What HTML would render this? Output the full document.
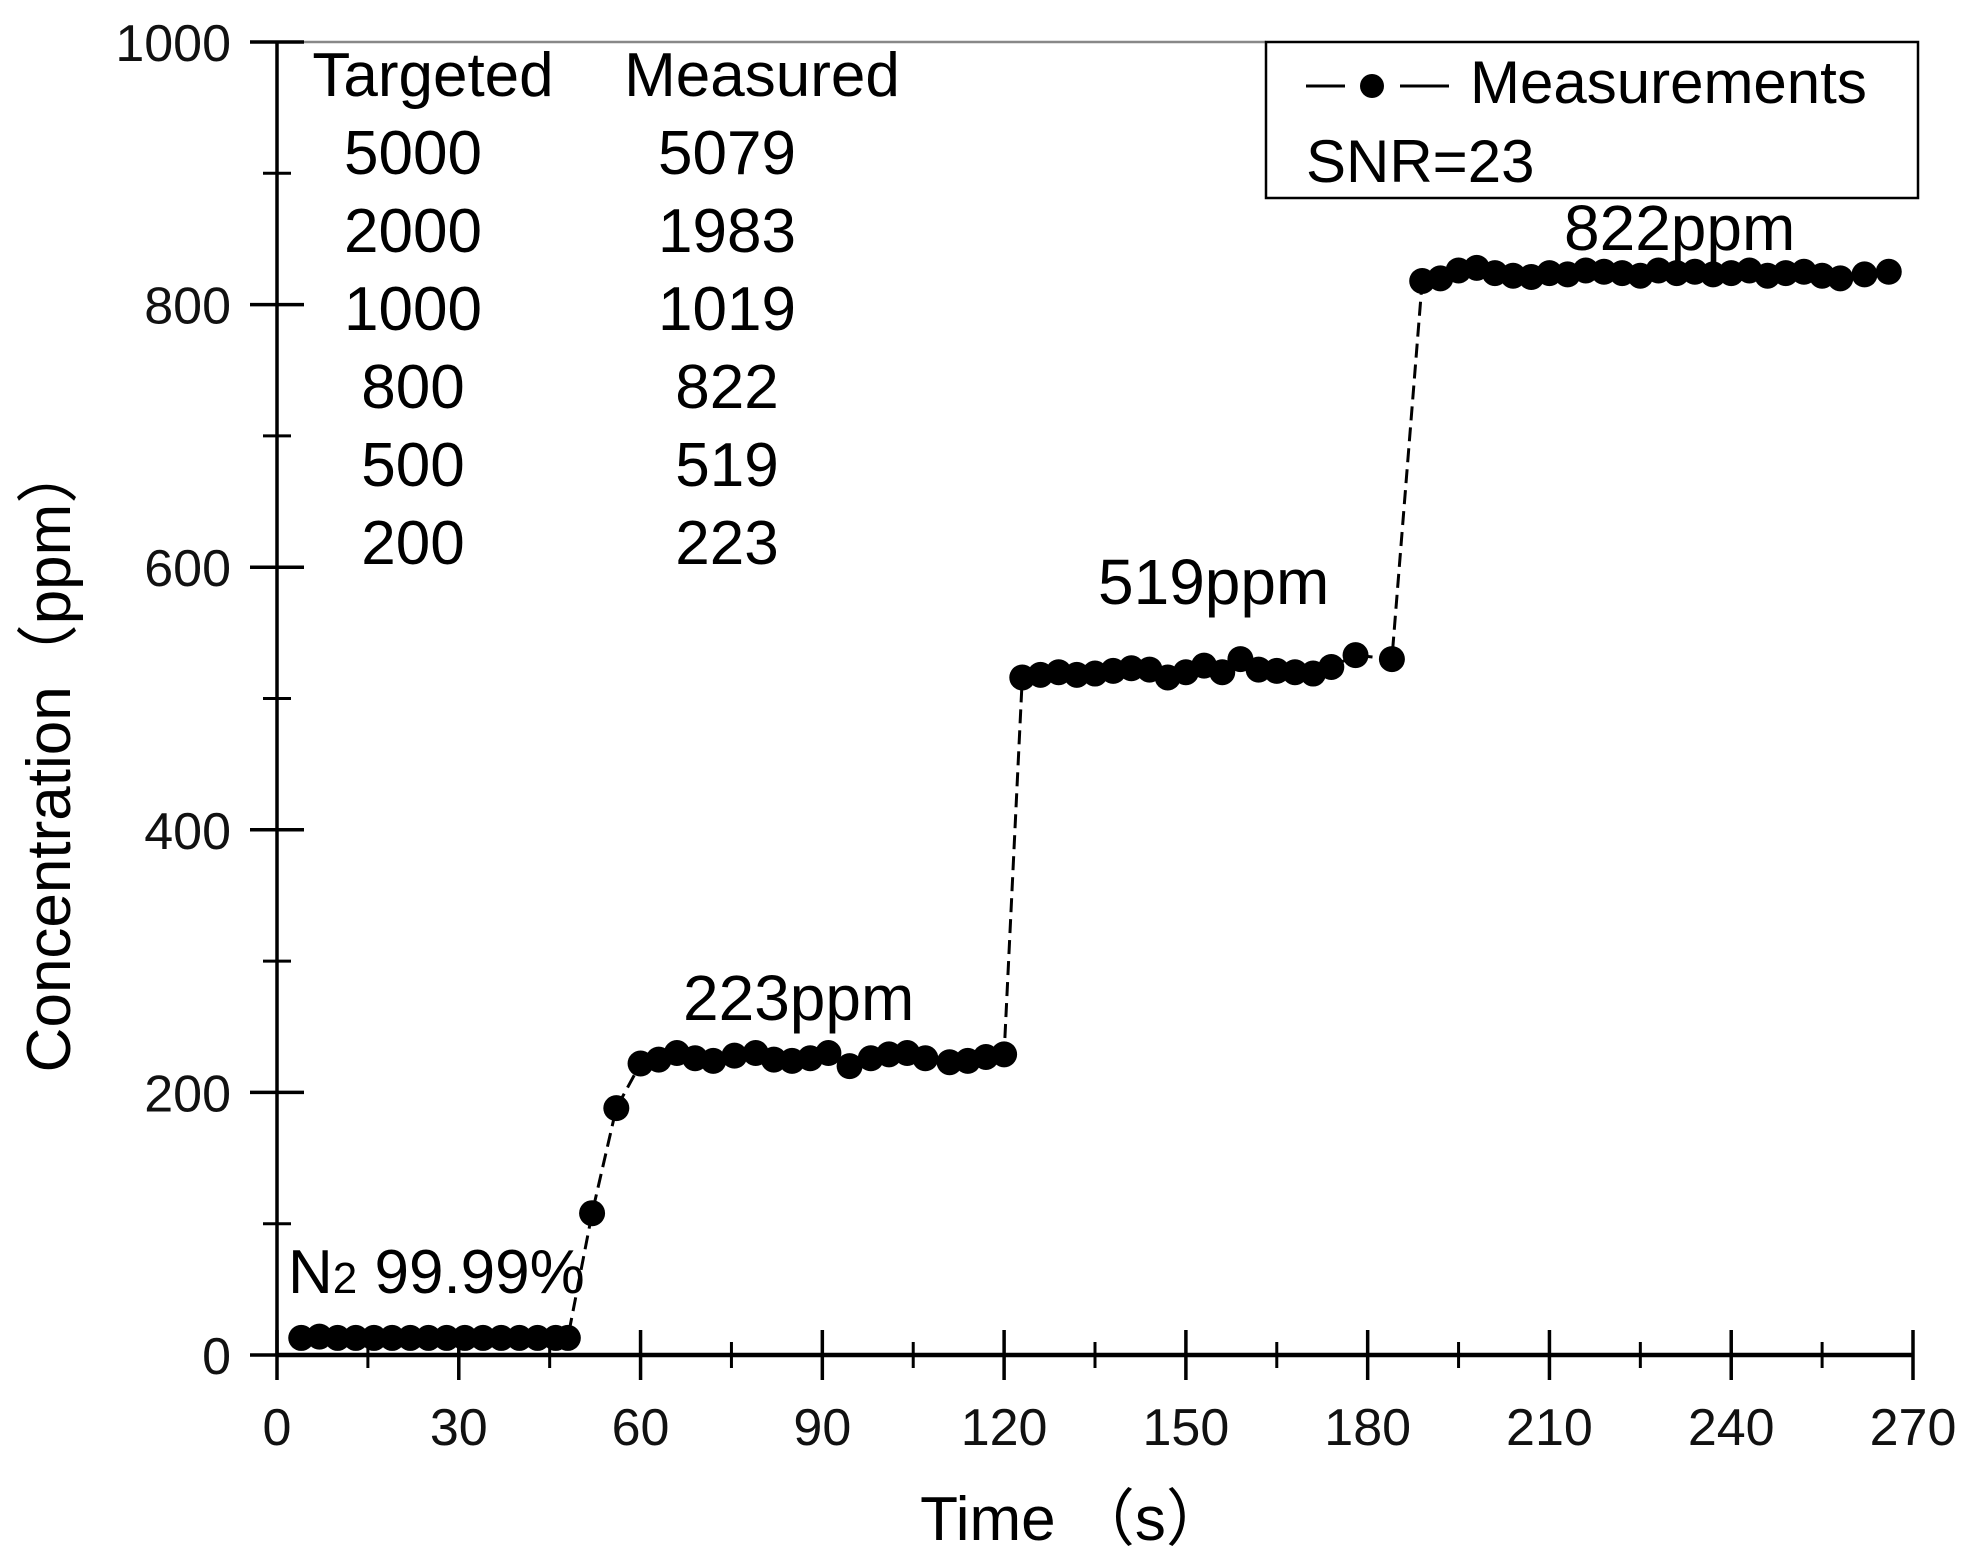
<!DOCTYPE html>
<html><head><meta charset="utf-8"><style>
html,body{margin:0;padding:0;background:#fff;}
svg{display:block;font-family:"Liberation Sans","Noto Sans CJK SC",sans-serif;}
</style></head><body>
<svg id="chart" width="1970" height="1566" viewBox="0 0 1970 1566" xmlns="http://www.w3.org/2000/svg">
<g id="axes"></g>
<g id="series"></g>
<g id="table"></g>
<g>
  <rect x="1266" y="42" width="652" height="156" fill="#fff" stroke="#000" stroke-width="2.5"/>
  <line x1="1306" y1="86" x2="1345" y2="86" stroke="#000" stroke-width="3"/>
  <circle cx="1372" cy="86" r="12" fill="#000"/>
  <line x1="1400" y1="86" x2="1449" y2="86" stroke="#000" stroke-width="3"/>
  <text x="1470" y="103" font-size="60">Measurements</text>
  <text x="1306" y="182" font-size="60">SNR=23</text>
</g>
<text x="683" y="1020" font-size="64">223ppm</text>
<text x="1098" y="604" font-size="64">519ppm</text>
<text x="1564" y="250" font-size="64">822ppm</text>
<text x="288" y="1293" font-size="62">N<tspan font-size="44">2</tspan> 99.99%</text>
<text transform="translate(70,757) rotate(-90)" text-anchor="middle" font-size="62">Concentration（ppm）</text>
<text x="1074" y="1540" text-anchor="middle" font-size="62">Time （s）</text>
</svg>
<script>
const xTicks = [0,30,60,90,120,150,180,210,240,270];
const xMinor = [15,45,75,105,135,165,195,225,255];
const yTicks = [0,200,400,600,800,1000];
const yMinor = [100,300,500,700,900];
const times = [4,7,10,13,16,19,22,25,28,31,34,37,40,43,46,48,
  52,56,
  60,63,66,69,72,75.5,79,82,85,88,91,94.5,98,101,104,107,111,114,117,120,
  123,126,129,132,135,138,141,144,147,150,153,156,159,162,165,168,171,174,178,184,
  189,192,195,198,201,204,207,210,213,216,219,222,225,228,231,234,237,240,243,246,249,252,255,258,262,266];
const values = [13,14,13,13,13,13,13,13,13,13,13,13,13,13,13,13,
  108,188,
  222,225,230,226,224,228,230,225,224,226,230,220,226,229,230,226,223,224,227,229,
  516,518,520,518,519,521,523,522,516,520,525,520,530,522,521,520,519,524,533,530,
  818,820,826,828,824,822,821,824,823,826,825,824,822,826,824,825,823,824,826,822,824,825,822,820,823,825];
const targeted = ["5000","2000","1000","800","500","200"];
const measured = ["5079","1983","1019","822","519","223"];

const NS="http://www.w3.org/2000/svg";
const X0=277,X1=1913,Y0=1355,Y1=42;
const sx=t=>X0+(X1-X0)*t/270;
const sy=v=>Y0-(Y0-Y1)*v/1000;
function mk(tag,attrs,parent){const e=document.createElementNS(NS,tag);for(const k in attrs)e.setAttribute(k,attrs[k]);parent.appendChild(e);return e;}
const axes=document.getElementById('axes');
let e;
e=mk('line',{x1:X0,y1:Y0,x2:X1,y2:Y0,stroke:'#000','stroke-width':4.5},axes);


e=mk('line',{x1:X0,y1:Y0,x2:X0,y2:Y1,stroke:'#000','stroke-width':3.5},axes);


e=mk('line',{x1:X0,y1:Y1,x2:1266,y2:Y1,stroke:'#888','stroke-width':2.5},axes);


xTicks.forEach(t=>{
  e=mk('line',{x1:sx(t),y1:Y0-25,x2:sx(t),y2:Y0+25,stroke:'#000','stroke-width':3.5},axes);
  
  
  e=mk('text',{x:sx(t),y:1445,'text-anchor':'middle','font-size':52,fill:'#111'},axes);
  e.textContent=t;
  
  
});
xMinor.forEach(t=>{
  e=mk('line',{x1:sx(t),y1:Y0-13,x2:sx(t),y2:Y0+13,stroke:'#000','stroke-width':3},axes);
  
  
});
yTicks.forEach(v=>{
  e=mk('line',{x1:X0-27,y1:sy(v),x2:X0+27,y2:sy(v),stroke:'#000','stroke-width':3.5},axes);
  
  
  e=mk('text',{x:231,y:sy(v)+19,'text-anchor':'end','font-size':52,fill:'#111'},axes);
  e.textContent=v;
  
  
});
yMinor.forEach(v=>{
  e=mk('line',{x1:X0-14,y1:sy(v),x2:X0+14,y2:sy(v),stroke:'#000','stroke-width':3},axes);
  
  
});
const ser=document.getElementById('series');
const d=times.map((t,i)=>(i?'L':'M')+sx(t).toFixed(1)+' '+sy(values[i]).toFixed(1)).join(' ');
e=mk('path',{d:d,fill:'none',stroke:'#000','stroke-width':3,'stroke-dasharray':'14 7'},ser);


times.forEach((t,i)=>{
  e=mk('circle',{cx:sx(t),cy:sy(values[i]),r:13,fill:'#000'},ser);
  
  
});
const tb=document.getElementById('table');
e=mk('text',{x:433,y:96,'text-anchor':'middle','font-size':62},tb);
e.textContent='Targeted';


e=mk('text',{x:762,y:96,'text-anchor':'middle','font-size':62},tb);
e.textContent='Measured';


const rowY=[174,252,330,408,486,564];
targeted.forEach((s,i)=>{
  e=mk('text',{x:413,y:rowY[i],'text-anchor':'middle','font-size':62},tb);
  e.textContent=s;
  
  
  e=mk('text',{x:727,y:rowY[i],'text-anchor':'middle','font-size':62},tb);
  e.textContent=measured[i];
  
  
});
</script>
</body></html>
